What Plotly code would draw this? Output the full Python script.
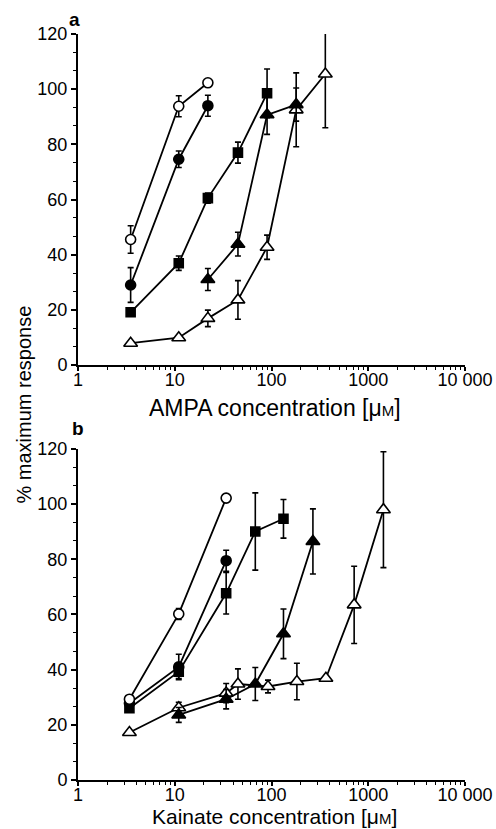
import plotly.graph_objects as go

# ---------------- Panel a: AMPA ----------------
a_oc_x = [3.5, 11, 22]
a_oc_y = [45.5, 93.8, 102.3]
a_oc_e = [5.0, 3.8, 0]

a_fc_x = [3.5, 11, 22]
a_fc_y = [29.0, 74.6, 94.0]
a_fc_e = [6.3, 3.0, 3.8]

a_fs_x = [3.5, 11, 22, 45, 90]
a_fs_y = [19.1, 36.9, 60.5, 77.0, 98.5]
a_fs_e = [0, 2.6, 1.8, 3.8, 8.8]

a_ft_x = [22, 45, 90, 180]
a_ft_y = [31.0, 43.8, 90.7, 94.4]
a_ft_e = [4.0, 4.3, 7.1, 6.0]

a_ot_x = [3.5, 11, 22, 45, 90, 180, 360]
a_ot_y = [7.9, 9.9, 16.9, 23.6, 42.7, 92.5, 105.5]
a_ot_e = [0, 0, 3.0, 7.0, 4.4, 13.4, 19.5]

# ---------------- Panel b: Kainate ----------------
b_oc_x = [3.4, 11, 34]
b_oc_y = [29.3, 60.2, 102.2]
b_oc_e = [0, 2.0, 0]

b_fc_x = [3.4, 11, 34]
b_fc_y = [27.8, 41.0, 79.5]
b_fc_e = [0, 4.6, 3.8]

b_fs_x = [3.4, 11, 34, 68, 133]
b_fs_y = [26.0, 39.3, 67.7, 90.1, 94.7]
b_fs_e = [0, 2.5, 7.5, 14.0, 7.0]

b_ft_x = [11, 34, 68, 133, 268]
b_ft_y = [23.6, 29.3, 34.8, 53.0, 86.5]
b_ft_e = [2.7, 3.5, 6.0, 9.0, 11.8]

b_ot_x = [3.4, 11, 34, 45, 92, 183, 365, 715, 1435]
b_ot_y = [17.2, 26.2, 31.5, 34.8, 33.9, 35.7, 36.9, 63.5, 98.0]
b_ot_e = [0, 2.0, 3.5, 5.5, 2.3, 6.6, 0, 14.0, 21.0]

x_tickvals = [1, 10, 100, 1000, 10000]
x_ticktext = ["1", "10", "100", "1000", "10 000"]
y_tickvals = [0, 20, 40, 60, 80, 100, 120]

fig = go.Figure()

def add(x, y, e, symbol, filled, size, xa, ya):
    fig.add_trace(go.Scatter(
        x=x, y=y, mode="lines+markers",
        line=dict(color="black", width=1.8),
        marker=dict(symbol=symbol, size=size,
                    color="black" if filled else "white",
                    line=dict(color="black", width=1.6)),
        error_y=dict(type="data", array=e, visible=True,
                     color="black", thickness=1.6, width=3),
        xaxis=xa, yaxis=ya, showlegend=False, cliponaxis=True))

for xa, ya, sets in [
    ("x", "y", [(a_ot_x, a_ot_y, a_ot_e, "triangle-up", False, 12),
                (a_ft_x, a_ft_y, a_ft_e, "triangle-up", True, 12),
                (a_fs_x, a_fs_y, a_fs_e, "square", True, 9),
                (a_fc_x, a_fc_y, a_fc_e, "circle", True, 10),
                (a_oc_x, a_oc_y, a_oc_e, "circle", False, 10)]),
    ("x2", "y2", [(b_ot_x, b_ot_y, b_ot_e, "triangle-up", False, 12),
                  (b_ft_x, b_ft_y, b_ft_e, "triangle-up", True, 12),
                  (b_fs_x, b_fs_y, b_fs_e, "square", True, 9),
                  (b_fc_x, b_fc_y, b_fc_e, "circle", True, 10),
                  (b_oc_x, b_oc_y, b_oc_e, "circle", False, 10)]),
]:
    for s in sets:
        add(*s, xa, ya)

font_family = "Liberation Sans, Arial, sans-serif"
mu = "[\u03bc<span style='font-size:15px'>M</span>]"

xcommon = dict(type="log", range=[0, 4], tickvals=x_tickvals, ticktext=x_ticktext,
               showline=True, linecolor="black", linewidth=2, ticks="outside",
               ticklen=4, tickwidth=1.5, tickcolor="black", showgrid=False,
               zeroline=False, tickfont=dict(size=18, color="black"),
               automargin=False, ticklabelstandoff=-7,
               minor=dict(ticks="outside", ticklen=3, tickwidth=1, tickcolor="black",
                          dtick="D1", showgrid=False))
ycommon = dict(range=[0, 120], tickvals=y_tickvals, showline=True, linecolor="black",
               linewidth=2, ticks="outside", ticklen=5, tickwidth=1.5,
               tickcolor="black", showgrid=False, zeroline=False,
               tickfont=dict(size=18, color="black"), automargin=False,
               minor=dict(ticks="outside", ticklen=3, tickwidth=1, tickcolor="black",
                          dtick=20 / 3, tick0=0, showgrid=False))

fig.update_layout(
    width=496, height=829,
    margin=dict(l=78, r=31, t=34, b=49, autoexpand=False),
    paper_bgcolor="white", plot_bgcolor="white",
    font=dict(family=font_family, color="black"),
    xaxis=dict(**xcommon, domain=[0, 1], anchor="y"),
    yaxis=dict(**ycommon, domain=[0.5563, 1], anchor="x"),
    xaxis2=dict(**xcommon, domain=[0, 1], anchor="y2"),
    yaxis2=dict(**ycommon, domain=[0, 0.4437], anchor="x2"),
)

fig.add_annotation(text="AMPA concentration " + mu, xref="paper", yref="paper",
                   x=0.509, y=0.4987, xanchor="center", yanchor="middle",
                   showarrow=False, font=dict(size=23, color="black"))
fig.add_annotation(text="Kainate concentration " + mu, xref="paper", yref="paper",
                   x=0.509, y=0.0, yshift=-36, xanchor="center", yanchor="middle",
                   showarrow=False, font=dict(size=21, color="black"))
fig.add_annotation(text="% maximum response", textangle=-90, xref="paper", yref="paper",
                   x=-0.14, y=0.503, xanchor="center", yanchor="middle",
                   showarrow=False, font=dict(size=20, color="black"))
fig.add_annotation(text="<b>a</b>", xref="paper", yref="paper", x=-0.008, y=1.0,
                   yshift=15, xanchor="center", yanchor="middle", showarrow=False,
                   font=dict(size=19, color="black"))
fig.add_annotation(text="<b>b</b>", xref="paper", yref="paper", x=0.0, y=0.4437,
                   yshift=20, xanchor="center", yanchor="middle", showarrow=False,
                   font=dict(size=19, color="black"))

fig.write_html("out.html", config={"displayModeBar": False},
               post_script="document.body.style.margin='0';document.body.style.overflow='hidden';")
